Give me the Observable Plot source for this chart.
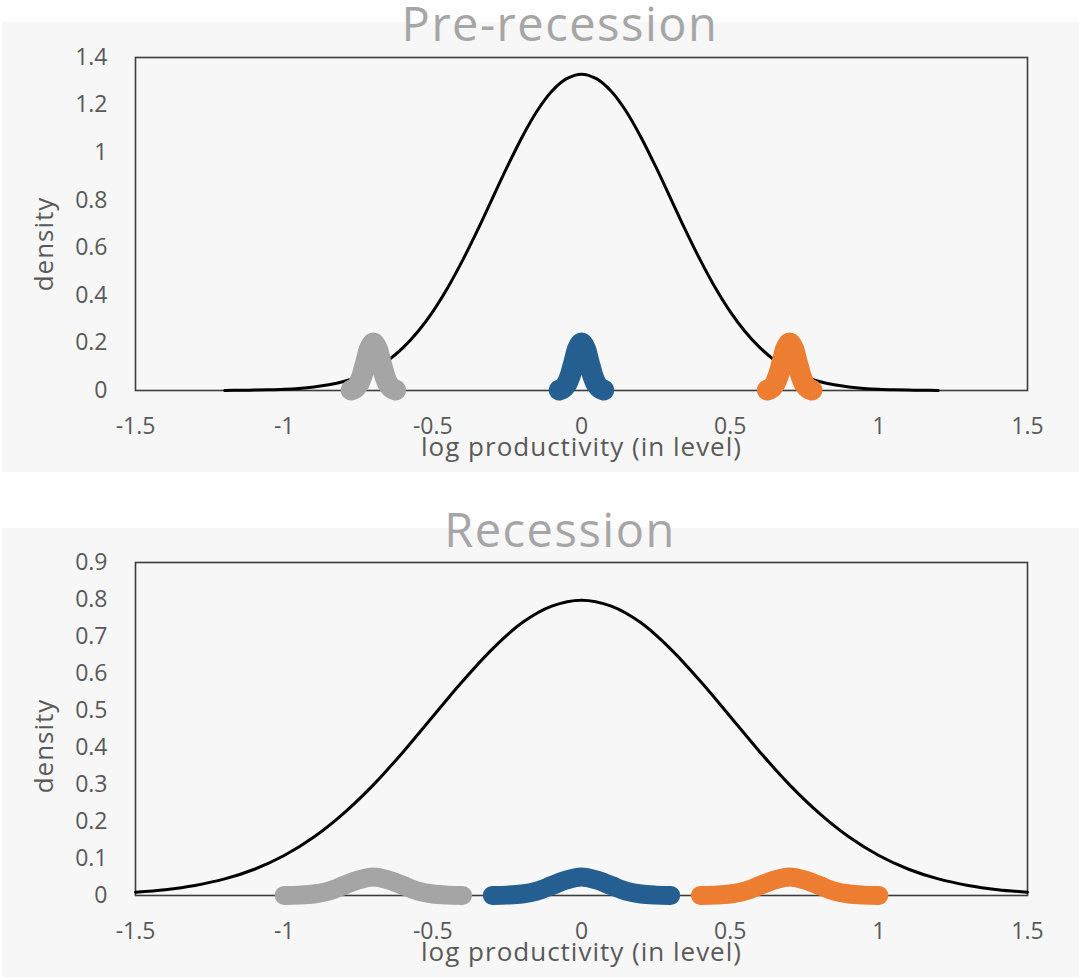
<!DOCTYPE html>
<html><head><meta charset="utf-8">
<script src="https://cdn.jsdelivr.net/npm/d3@7"></script>
<script src="https://cdn.jsdelivr.net/npm/@observablehq/plot@0.6"></script>
<style>
body{margin:0;background:#fff;width:1079px;height:979px;position:relative;overflow:hidden;font-family:"Open Sans",sans-serif}
.panel{position:absolute;left:2px;width:1077px;background:#f7f7f7}
.panel svg{display:block}
.panel g[aria-label="text"] text{letter-spacing:1px}
.title{position:absolute;left:0;width:1120px;text-align:center;font-size:47px;letter-spacing:1.5px;color:#a6a6a6;line-height:1;font-family:"Open Sans",sans-serif}
</style></head><body>
<div class="panel" id="p1" style="top:22px;height:450px"></div>
<div class="panel" id="p2" style="top:528px;height:449px"></div>
<div class="title" style="top:0px">Pre-recession</div>
<div class="title" style="top:506px">Recession</div>
<script>
// ---- data ----
const xTicks = [-1.5, -1, -0.5, 0, 0.5, 1, 1.5];
const yTicksTop = [0, 0.2, 0.4, 0.6, 0.8, 1, 1.2, 1.4];
const yTicksBottom = [0, 0.1, 0.2, 0.3, 0.4, 0.5, 0.6, 0.7, 0.8, 0.9];

// aggregate density, pre-recession
const xTop = [-1.2,-1.15,-1.1,-1.05,-1,-0.95,-0.9,-0.85,-0.8,-0.75,-0.7,-0.65,-0.6,-0.55,-0.5,-0.45,-0.4,-0.35,-0.3,-0.25,-0.2,-0.15,-0.1,-0.05,0,
  0.05,0.1,0.15,0.2,0.25,0.3,0.35,0.4,0.45,0.5,0.55,0.6,0.65,0.7,0.75,0.8,0.85,0.9,0.95,1,1.05,1.1,1.15,1.2];
const densTop = [0.0004,0.0009,0.0016,0.0029,0.0051,0.0088,0.0148,0.024,0.038,0.0584,0.0874,0.127,0.18,0.248,0.332,0.432,0.547,0.673,0.807,0.94,1.065,1.174,1.258,1.311,1.33,
  1.311,1.258,1.174,1.065,0.94,0.807,0.673,0.547,0.432,0.332,0.248,0.18,0.127,0.0874,0.0584,0.038,0.024,0.0148,0.0088,0.0051,0.0029,0.0016,0.0009,0.0004];

// aggregate density, recession
const xBottom = [-1.5,-1.4,-1.3,-1.2,-1.1,-1,-0.9,-0.8,-0.7,-0.6,-0.5,-0.4,-0.3,-0.2,-0.1,0,0.1,0.2,0.3,0.4,0.5,0.6,0.7,0.8,0.9,1,1.1,1.2,1.3,1.4,1.5];
const densBottom = [0.0089,0.0158,0.0272,0.0448,0.0709,0.108,0.158,0.222,0.299,0.388,0.484,0.579,0.666,0.737,0.782,0.798,
  0.782,0.737,0.666,0.579,0.484,0.388,0.299,0.222,0.158,0.108,0.0709,0.0448,0.0272,0.0158,0.0089];

// group sub-densities
const groups = ["low", "middle", "high"];
const groupCenters = [-0.7, 0, 0.7];
const groupColors = ["#a5a5a5", "#255e91", "#ed7d31"];
const bumpOffsetTop = [-0.075,-0.0625,-0.05,-0.0375,-0.025,-0.0125,0,0.0125,0.025,0.0375,0.05,0.0625,0.075];
const bumpTop = [0.002,0.009,0.027,0.065,0.121,0.177,0.2,0.177,0.121,0.065,0.027,0.009,0.002];
const bumpOffsetBottom = [-0.3,-0.25,-0.2,-0.15,-0.1,-0.05,0,0.05,0.1,0.15,0.2,0.25,0.3];
const bumpBottom = [0,0.001,0.004,0.012,0.027,0.042,0.05,0.042,0.027,0.012,0.004,0.001,0];

// ---- build tables ----
const aggTop = xTop.map((x, i) => ({x, y: densTop[i]}));
const aggBottom = xBottom.map((x, i) => ({x, y: densBottom[i]}));
function bumps(offsets, values) {
  const rows = [];
  groups.forEach((g, gi) => offsets.forEach((o, i) => rows.push({g, x: groupCenters[gi] + o, y: values[i]})));
  return rows;
}
const subTop = bumps(bumpOffsetTop, bumpTop);
const subBottom = bumps(bumpOffsetBottom, bumpBottom);

const fmt = d => String(d);
const textColor = "#595959";

function chart({height, mL, mR, mT, mB, yDomain, yTicks, agg, sub, bumpWidth, yLabelDy}) {
  return Plot.plot({
    width: 1077, height,
    marginLeft: mL, marginRight: mR, marginTop: mT, marginBottom: mB,
    style: {background: "transparent", fontFamily: "'Open Sans', sans-serif", fontSize: "23px", color: textColor, overflow: "visible"},
    x: {domain: [-1.5, 1.5]},
    y: {domain: yDomain},
    color: {domain: groups, range: groupColors},
    marks: [
      Plot.axisX(xTicks, {tickSize: 0, tickPadding: 27, tickFormat: fmt, label: null, fill: textColor}),
      Plot.axisY(yTicks, {tickSize: 0, tickPadding: 28, tickFormat: fmt, label: null, fill: textColor}),
      Plot.frame({stroke: "#3c3c3c", strokeWidth: 1.6}),
      Plot.line(agg, {x: "x", y: "y", stroke: "#000", strokeWidth: 3, curve: "catmull-rom"}),
      Plot.line(sub, {x: "x", y: "y", z: "g", stroke: "g", strokeWidth: bumpWidth, strokeLinecap: "round", strokeLinejoin: "round", curve: "catmull-rom"}),
      Plot.text(["log productivity (in level)"], {frameAnchor: "bottom", textAnchor: "middle", dy: 65, fontSize: 26, fill: textColor}),
      Plot.text(["density"], {frameAnchor: "left", textAnchor: "middle", dx: -91, dy: yLabelDy, rotate: -90, fontSize: 26, fill: textColor})
    ]
  });
}

document.getElementById("p1").append(chart({
  height: 450, mL: 133, mR: 52, mT: 35, mB: 82,
  yDomain: [0, 1.4], yTicks: yTicksTop, agg: aggTop, sub: subTop, bumpWidth: 21, yLabelDy: 20
}));
document.getElementById("p2").append(chart({
  height: 449, mL: 133, mR: 52, mT: 34, mB: 82,
  yDomain: [0, 0.9], yTicks: yTicksBottom, agg: aggBottom, sub: subBottom, bumpWidth: 19, yLabelDy: 17
}));
</script>
</body></html>
